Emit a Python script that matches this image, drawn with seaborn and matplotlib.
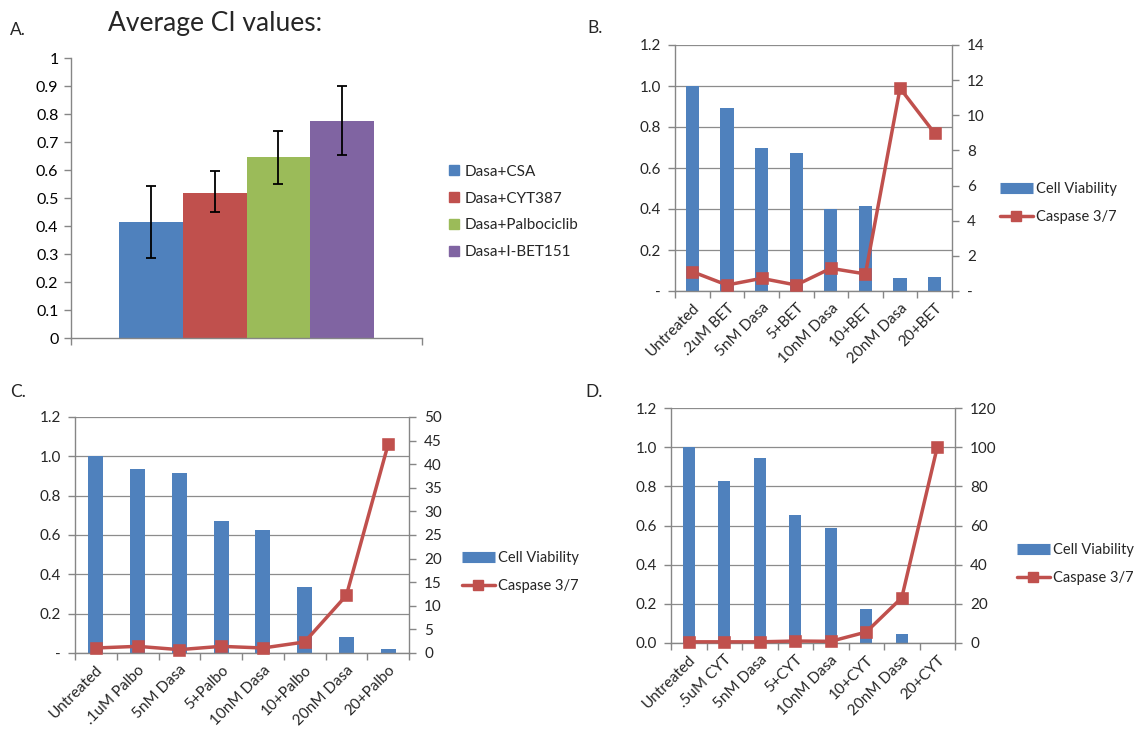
import numpy as np
import pandas as pd
import seaborn as sns
import matplotlib
matplotlib.use("Agg")
import matplotlib.pyplot as plt
from matplotlib.lines import Line2D

sns.set_style("white")
plt.rcParams['font.family'] = ['Lato', 'DejaVu Sans']

# ---------------- data ----------------
ci_names = ["Dasa+CSA", "Dasa+CYT387", "Dasa+Palbociclib", "Dasa+I-BET151"]
ci_values = [0.415, 0.519, 0.645, 0.776]
ci_err_low = [0.129, 0.070, 0.096, 0.124]
ci_err_high = [0.129, 0.076, 0.094, 0.124]
ci_colors = ["#4F81BD", "#C0504D", "#9BBB59", "#8064A2"]

b_labels = ["Untreated", ".2uM BET", "5nM Dasa", "5+BET", "10nM Dasa", "10+BET", "20nM Dasa", "20+BET"]
b_viability = [1.0, 0.894, 0.699, 0.675, 0.398, 0.415, 0.062, 0.07]
b_caspase = [1.1, 0.34, 0.72, 0.34, 1.29, 0.97, 11.54, 8.97]

c_labels = ["Untreated", ".1uM Palbo", "5nM Dasa", "5+Palbo", "10nM Dasa", "10+Palbo", "20nM Dasa", "20+Palbo"]
c_viability = [1.0, 0.937, 0.917, 0.669, 0.627, 0.336, 0.083, 0.02]
c_caspase = [1.06, 1.41, 0.71, 1.41, 1.06, 2.33, 12.2, 44.2]

d_labels = ["Untreated", ".5uM CYT", "5nM Dasa", "5+CYT", "10nM Dasa", "10+CYT", "20nM Dasa", "20+CYT"]
d_viability = [1.0, 0.827, 0.946, 0.654, 0.589, 0.174, 0.044, 0.0]
d_caspase = [0.6, 0.6, 0.6, 1.0, 0.85, 5.6, 23.1, 100.0]

left_ticks = [0, 0.2, 0.4, 0.6, 0.8, 1.0, 1.2]
left_labels_dash = ["-", "0.2", "0.4", "0.6", "0.8", "1.0", "1.2"]
left_labels_zero = ["0.0", "0.2", "0.4", "0.6", "0.8", "1.0", "1.2"]
b_right_ticks = [0, 2, 4, 6, 8, 10, 12, 14]
b_right_labels = ["-", "2", "4", "6", "8", "10", "12", "14"]
c_right_ticks = [0, 5, 10, 15, 20, 25, 30, 35, 40, 45, 50]
d_right_ticks = [0, 20, 40, 60, 80, 100, 120]
a_ticks = [0, 0.1, 0.2, 0.3, 0.4, 0.5, 0.6, 0.7, 0.8, 0.9, 1.0]
a_tick_labels = ["0", "0.1", "0.2", "0.3", "0.4", "0.5", "0.6", "0.7", "0.8", "0.9", "1"]

BLUE = "#4F81BD"
RED = "#C0504D"
GRID = "#8C8C8C"
AXC = "#868686"

W, H = 1144, 734
fig = plt.figure(figsize=(W / 100, H / 100), dpi=100)
fig.patch.set_facecolor("white")


def rect(l, r, t, b):
    return [l / W, 1 - b / H, (r - l) / W, (b - t) / H]


# ---------------- Panel A ----------------
axA = fig.add_axes(rect(71, 422, 58, 338))
df_a = pd.DataFrame({"group": [""] * 4, "combo": ci_names, "ci": ci_values})
sns.barplot(data=df_a, x="group", y="ci", hue="combo", hue_order=ci_names,
            palette=ci_colors, width=0.727, saturation=1, errorbar=None,
            legend=False, linewidth=0, ax=axA)
bars = sorted([p for p in axA.patches if p.get_width() > 0], key=lambda p: p.get_x())
xs = [p.get_x() + p.get_width() / 2 for p in bars]
axA.errorbar(xs, ci_values, yerr=[ci_err_low, ci_err_high], fmt="none",
             ecolor="black", elinewidth=1.3, capsize=3.5, capthick=1.3, zorder=5)
axA.set_xlim(-0.5, 0.5)
axA.set_ylim(0, 1.0)
axA.set_yticks(a_ticks)
axA.set_yticklabels(a_tick_labels)
axA.set_xticks([-0.5, 0.5])
axA.set_xticklabels(["", ""])
axA.set_xlabel("")
axA.set_ylabel("")
for s in ["top", "right"]:
    axA.spines[s].set_visible(False)
for s in ["left", "bottom"]:
    axA.spines[s].set_color(AXC)
    axA.spines[s].set_linewidth(1.0)
axA.tick_params(axis="y", left=True, length=5, width=1, color=AXC, labelsize=11.5, pad=4, labelcolor="black")
axA.tick_params(axis="x", bottom=True, length=5, width=1, color=AXC)

handles_a = [Line2D([], [], marker="s", linestyle="none", markersize=7.5, color=c) for c in ci_colors]
fig.legend(handles_a, ci_names, loc="center left", bbox_to_anchor=(446 / W, 1 - 212 / H),
           frameon=False, fontsize=11, labelspacing=0.85, handletextpad=0.25,
           handlelength=1.0, borderpad=0, borderaxespad=0)

fig.text(108 / W, 1 - 24 / H, "Average CI values:", fontsize=19, va="center", ha="left")
fig.text(10 / W, 1 - 30 / H, "A.", fontsize=12.5, va="center")
fig.text(587 / W, 1 - 28 / H, "B.", fontsize=12.5, va="center")
fig.text(10 / W, 1 - 392 / H, "C.", fontsize=12.5, va="center")
fig.text(585 / W, 1 - 392 / H, "D.", fontsize=12.5, va="center")


# ---------------- combo panels ----------------
def combo(box, labels, viab, casp, bar_w, lticks, llabels, rmax, rticks, rlabels, leg_x, leg_y):
    ax = fig.add_axes(rect(*box))
    df = pd.DataFrame({"cond": labels, "viab": viab, "casp": casp})
    sns.barplot(data=df, x="cond", y="viab", order=labels, color=BLUE, saturation=1,
                width=bar_w, errorbar=None, linewidth=0, ax=ax)
    ax2 = ax.twinx()
    sns.pointplot(data=df, x="cond", y="casp", order=labels, color=RED, markers="s",
                  linestyles="-", errorbar=None, markersize=7, linewidth=2.5, ax=ax2)
    for ln in ax2.lines:
        ln.set_clip_on(False)
    ax.set_xlim(-0.5, len(labels) - 0.5)
    ax.set_ylim(0, 1.2)
    ax2.set_ylim(0, rmax)
    ax.set_yticks(lticks)
    ax.set_yticklabels(llabels)
    ax2.set_yticks(rticks)
    ax2.set_yticklabels(rlabels)
    ax.set_xticks(range(len(labels)))
    ax.set_xticklabels(labels, rotation=45, ha="right", va="top", rotation_mode="anchor")
    ax.set_xticks(np.arange(-0.5, len(labels), 1.0), minor=True)
    ax.set_xlabel("")
    ax.set_ylabel("")
    ax2.set_xlabel("")
    ax2.set_ylabel("")
    ax.set_axisbelow(True)
    ax.yaxis.grid(True, color=GRID, linewidth=0.9)
    ax.xaxis.grid(False)
    for s in ["top", "right"]:
        ax.spines[s].set_visible(False)
    for s in ["left", "bottom"]:
        ax.spines[s].set_color(AXC)
        ax.spines[s].set_linewidth(1.0)
    for s in ["top", "left", "bottom"]:
        ax2.spines[s].set_visible(False)
    ax2.spines["right"].set_color(AXC)
    ax2.spines["right"].set_linewidth(1.0)
    ax.tick_params(axis="y", left=True, length=5, width=1, color=AXC, labelsize=11, pad=5)
    ax2.tick_params(axis="y", right=True, length=5, width=1, color=AXC, labelsize=11, pad=6)
    ax.tick_params(axis="x", which="major", bottom=False, length=0, labelsize=11, pad=7)
    ax.tick_params(axis="x", which="minor", bottom=True, length=5, width=1, color=AXC)

    h1 = Line2D([], [], color=BLUE, linewidth=8, solid_capstyle="butt")
    h2 = Line2D([], [], color=RED, linewidth=2.5, marker="s", markersize=7)
    fig.legend([h1, h2], ["Cell Viability", "Caspase 3/7"], loc="center left",
               bbox_to_anchor=(leg_x / W, 1 - leg_y / H), frameon=False, fontsize=10.5,
               labelspacing=0.95, handletextpad=0.25, handlelength=2.25,
               borderpad=0, borderaxespad=0)
    return ax, ax2


combo((675, 952, 45, 291), b_labels, b_viability, b_caspase, 0.38,
      left_ticks, left_labels_dash, 14, b_right_ticks, b_right_labels, 1000, 203)
combo((75, 409, 417, 653), c_labels, c_viability, c_caspase, 0.36,
      left_ticks, left_labels_dash, 50, c_right_ticks, [str(t) for t in c_right_ticks], 462, 572)
combo((671, 955, 408, 643), d_labels, d_viability, d_caspase, 0.35,
      left_ticks, left_labels_zero, 120, d_right_ticks, [str(t) for t in d_right_ticks], 1017, 564)

fig.savefig("out.png", dpi=100, facecolor="white")
